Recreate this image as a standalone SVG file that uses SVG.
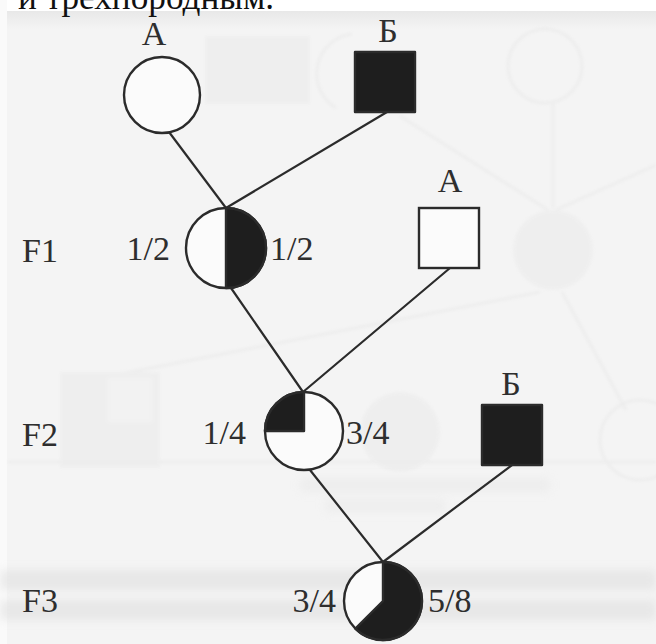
<svg xmlns="http://www.w3.org/2000/svg" width="656" height="644" viewBox="0 0 656 644">
  <defs>
    <style>
      .serif { font-family: "Liberation Serif", "Times New Roman", Times, "DejaVu Serif", serif; }
      .lbl { font-size: 34px; fill: #2e2e2e; }
      .edge { stroke: #2b2b2b; stroke-width: 2.2; fill: none; stroke-linecap: round; }
      .outline { stroke: #2b2b2b; stroke-width: 2.4; fill: #fbfbfb; }
      .dark { fill: #1e1e1e; stroke: #2b2b2b; stroke-width: 2.4; stroke-linejoin: round; }
      .ghost-line { stroke: #e3e3e3; stroke-width: 3; fill: none; }
      .ghost-fill { fill: #e7e7e7; }
    </style>
    <filter id="soft" x="-10%" y="-10%" width="120%" height="120%">
      <feGaussianBlur stdDeviation="1.8"/>
    </filter>
    <filter id="softer" x="-5%" y="-50%" width="110%" height="200%">
      <feGaussianBlur stdDeviation="4"/>
    </filter>
    <linearGradient id="topband" x1="0" y1="0" x2="0" y2="1">
      <stop offset="0" stop-color="#e8e8e8"/>
      <stop offset="1" stop-color="#f4f4f4"/>
    </linearGradient>
  </defs>

  <!-- paper -->
  <rect x="0" y="0" width="656" height="644" fill="#f4f4f4"/>
  <rect x="0" y="0" width="656" height="11" fill="#ffffff"/>
  <rect x="0" y="11" width="656" height="18" fill="url(#topband)"/>
  <rect x="0" y="0" width="7" height="644" fill="#fafafa"/>

  <!-- last line of the preceding paragraph, cut by the page edge -->
  <text class="serif" x="18" y="9" font-size="36" fill="#111" textLength="256" lengthAdjust="spacingAndGlyphs">и трехпородным.</text>

  <!-- faint show-through from the reverse side of the sheet -->
  <g id="show-through" filter="url(#soft)" opacity="0.4">
    <rect class="ghost-fill" x="205" y="36" width="105" height="68"/>
    <circle class="ghost-line" cx="545" cy="66" r="37"/>
    <path class="ghost-line" d="M 336 108 A 40 40 0 0 1 352 34"/>
    <line class="ghost-line" x1="553" y1="104" x2="553" y2="208"/>
    <line class="ghost-line" x1="400" y1="116" x2="548" y2="210"/>
    <line class="ghost-line" x1="656" y1="165" x2="556" y2="210"/>
    <circle class="ghost-fill" cx="553" cy="250" r="40"/>
    <line class="ghost-line" x1="540" y1="292" x2="100" y2="378"/>
    <line class="ghost-line" x1="562" y1="292" x2="626" y2="410"/>
    <rect class="ghost-fill" x="60" y="372" width="100" height="96"/>
    <rect x="108" y="378" width="44" height="44" fill="#f0f0f0"/>
    <circle class="ghost-fill" cx="400" cy="432" r="40"/>
    <circle class="ghost-line" cx="640" cy="440" r="40"/>
    <line class="ghost-line" x1="8" y1="462" x2="656" y2="462" stroke-width="2"/>
  </g>
  <g id="show-through-lines" filter="url(#softer)" opacity="0.5">
    <rect class="ghost-fill" x="300" y="478" width="250" height="14"/>
    <rect class="ghost-fill" x="325" y="500" width="120" height="12"/>
    <rect x="0" y="570" width="656" height="20" fill="#dcdcdc"/>
    <rect x="0" y="600" width="656" height="20" fill="#dcdcdc"/>
  </g>

  <!-- generation labels -->
  <g id="generations" class="serif">
    <text class="lbl" x="22" y="262">F1</text>
    <text class="lbl" x="22" y="446">F2</text>
    <text class="lbl" x="22" y="612">F3</text>
  </g>

  <!-- lines of descent -->
  <g id="connectors">
    <line class="edge" x1="169" y1="132" x2="226" y2="208"/>
    <line class="edge" x1="387" y1="112" x2="226" y2="208"/>
    <line class="edge" x1="231" y1="288" x2="303" y2="392"/>
    <line class="edge" x1="450" y1="268" x2="303" y2="392"/>
    <line class="edge" x1="310" y1="470" x2="383" y2="562"/>
    <line class="edge" x1="512" y1="465" x2="383" y2="562"/>
  </g>

  <!-- P: female of breed A -->
  <g id="p-female-a" class="serif">
    <circle class="outline" cx="162" cy="95" r="38"/>
    <text class="lbl" x="154" y="45" text-anchor="middle">А</text>
  </g>

  <!-- P: male of breed B -->
  <g id="p-male-b" class="serif">
    <rect class="dark" x="355" y="52" width="60" height="60"/>
    <text class="lbl" x="388" y="42" text-anchor="middle">Б</text>
  </g>

  <!-- F1: half blood -->
  <g id="f1-female" class="serif">
    <circle class="outline" cx="226" cy="248" r="40"/>
    <path class="dark" d="M 226 208 A 40 40 0 0 1 226 288 Z"/>
    <text class="lbl" x="170" y="260" text-anchor="end">1/2</text>
    <text class="lbl" x="270" y="260">1/2</text>
  </g>

  <!-- F1 mate: male of breed A -->
  <g id="f1-male-a" class="serif">
    <rect class="outline" x="419" y="208" width="60" height="60"/>
    <text class="lbl" x="450" y="192" text-anchor="middle">А</text>
  </g>

  <!-- F2: quarter blood -->
  <g id="f2-female" class="serif">
    <circle class="outline" cx="304" cy="431" r="39"/>
    <path class="dark" d="M 304 431 L 304 392 A 39 39 0 0 0 265 431 Z"/>
    <text class="lbl" x="246" y="444" text-anchor="end">1/4</text>
    <text class="lbl" x="346" y="444">3/4</text>
  </g>

  <!-- F2 mate: male of breed B -->
  <g id="f2-male-b" class="serif">
    <rect class="dark" x="482" y="405" width="60" height="60"/>
    <text class="lbl" x="511" y="395" text-anchor="middle">Б</text>
  </g>

  <!-- F3: five eighths -->
  <g id="f3-female" class="serif">
    <circle class="outline" cx="383" cy="601" r="39"/>
    <path class="dark" d="M 383 601 L 383 562 A 39 39 0 1 1 355.4 628.6 Z"/>
    <text class="lbl" x="336" y="612" text-anchor="end">3/4</text>
    <text class="lbl" x="428" y="612">5/8</text>
  </g>
</svg>
